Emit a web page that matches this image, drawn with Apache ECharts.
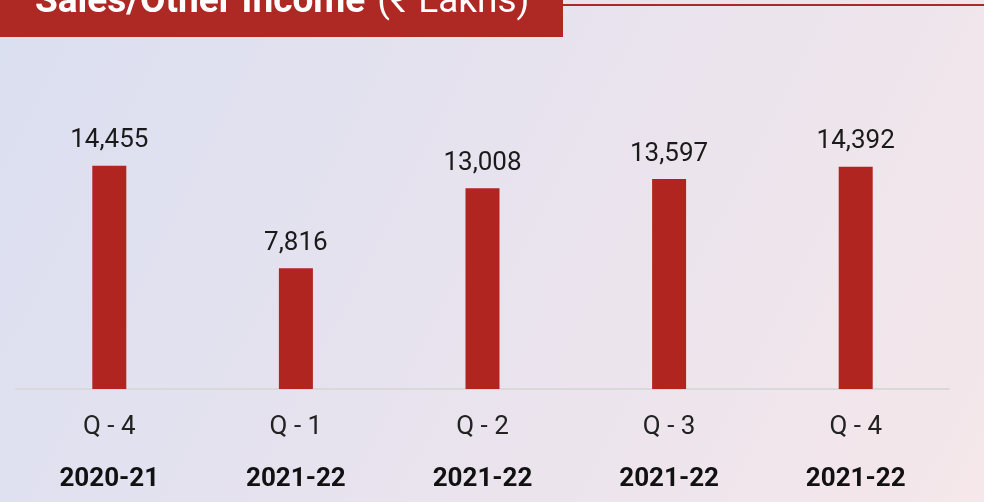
<!DOCTYPE html>
<html>
<head>
<meta charset="utf-8">
<script src="https://cdn.jsdelivr.net/npm/echarts@6/dist/echarts.min.js"></script>
<style>
html,body{margin:0;padding:0;}
#chart{width:984px;height:502px;}
</style>
</head>
<body>
<div id="chart"></div>
<script>
const quarters = ['Q - 4', 'Q - 1', 'Q - 2', 'Q - 3', 'Q - 4'];
const years = ['2020-21', '2021-22', '2021-22', '2021-22', '2021-22'];
const values = [14455, 7816, 13008, 13597, 14392];
const titleBold = 'Sales/Other Income';
const titleRegular = '(₹ Lakhs)';

const categories = quarters.map((q, i) => q + '\n' + years[i]);

const chart = echarts.init(document.getElementById('chart'));
chart.setOption({
  animation: false,
  backgroundColor: new echarts.graphic.LinearGradient(0, 0, 1, 1, [
    { offset: 0, color: '#dadff1' },
    { offset: 0.5, color: '#e8e3ee' },
    { offset: 1, color: '#f5e7ea' }
  ]),
  graphic: [
    { type: 'rect', shape: { x: 0, y: 0, width: 563, height: 37 }, style: { fill: '#ae2824' } },
    { type: 'rect', shape: { x: 563, y: 4, width: 421, height: 2 }, style: { fill: '#ae2824' } },
    {
      type: 'text', left: 35, top: -16,
      style: {
        text: '{b|' + titleBold + '}{r|' + titleRegular + '}',
        rich: {
          b: { fontFamily: 'Roboto', fontWeight: 'bold', fontSize: 37, fill: '#ffffff' },
          r: { fontFamily: 'Roboto', fontSize: 37, fill: '#ffffff', padding: [0, 0, 0, 12] }
        }
      }
    }
  ],
  grid: { left: 16, right: 35, top: 142, bottom: 113 },
  xAxis: {
    type: 'category',
    data: categories,
    axisLine: { lineStyle: { color: '#d9d9d9', width: 2 } },
    axisTick: { show: false },
    axisLabel: {
      margin: 12,
      formatter: (v) => {
        const p = v.split('\n');
        return '{q|' + p[0] + '}\n{y|' + p[1] + '}';
      },
      rich: {
        q: { fontFamily: 'Roboto', fontSize: 26, color: '#222', lineHeight: 52 },
        y: { fontFamily: 'Roboto', fontWeight: 'bold', fontSize: 26, color: '#111', lineHeight: 52 }
      }
    }
  },
  yAxis: { type: 'value', min: 0, max: 16000, show: false, splitLine: { show: false } },
  series: [{
    type: 'bar',
    data: values,
    barWidth: 34,
    itemStyle: { color: '#b0251f' },
    label: {
      show: true,
      position: 'top',
      distance: 12,
      fontFamily: 'Roboto',
      fontSize: 26,
      color: '#1a1a1a',
      formatter: (p) => p.value.toLocaleString('en-US')
    }
  }]
});
</script>
</body>
</html>
